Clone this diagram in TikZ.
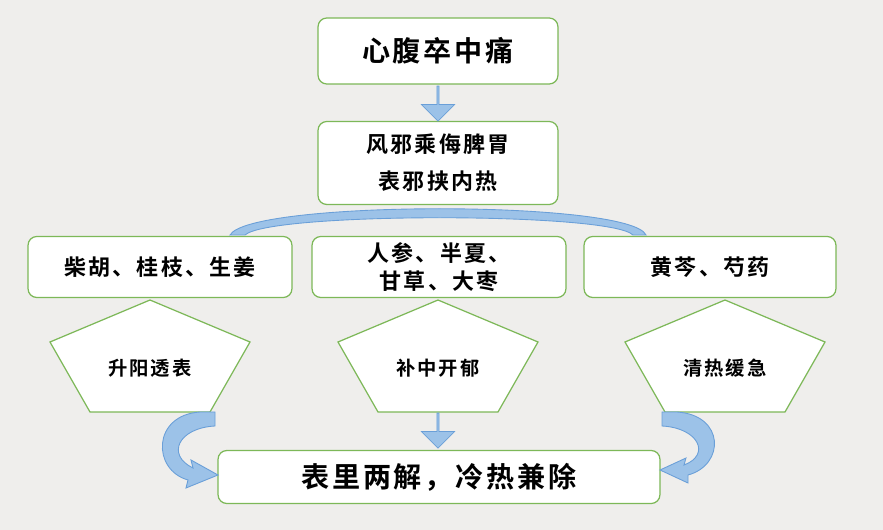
\documentclass[tikz,border=0pt]{standalone}
\usepackage{fontspec}
\setmainfont[LetterSpace=10]{Noto Sans CJK SC Bold}
\usetikzlibrary{shapes.arrows, positioning}
\definecolor{boxgreen}{HTML}{7DB858}
\definecolor{arrowfill}{HTML}{9CC2E8}
\definecolor{arrowline}{HTML}{6A9FD8}
\definecolor{paper}{HTML}{EFEEEC}
\begin{document}
\begin{tikzpicture}[
    x=0.02cm, y=-0.02cm,
    box/.style={rectangle, draw=boxgreen, fill=white, rounded corners=5pt, line width=0.7pt, align=center, inner sep=0pt},
    pent/.style={draw=boxgreen, fill=white, line width=0.7pt},
    fatarrow/.style={single arrow, draw=arrowline, fill=arrowfill, minimum height=0.7cm, minimum width=0.66cm, single arrow head extend=0.1cm, inner sep=0pt, shape border rotate=270},
    band/.style={draw=arrowline, fill=arrowfill, line width=0.5pt}
]
\fill[paper] (0,0) rectangle (883,530);

% Top blocks
\node[box, minimum width=4.8cm, minimum height=1.32cm, font=\fontsize{16}{18}\selectfont] (pain) at (438,51) {心腹卒中痛};
\node[box, minimum width=4.8cm, minimum height=1.66cm, font=\fontsize{12.5}{21}\selectfont] (cause) at (438,163) {风邪乘侮脾胃\\表邪挟内热};

% Herb blocks
\node[box, minimum width=5.28cm, minimum height=1.22cm, font=\fontsize{12.5}{16}\selectfont] (chaihu) at (160,267) {柴胡、桂枝、生姜};
\node[box, minimum width=5.08cm, minimum height=1.22cm, font=\fontsize{12.5}{16}\selectfont] (renshen) at (439,267) {人参、半夏、\\甘草、大枣};
\node[box, minimum width=5.04cm, minimum height=1.22cm, font=\fontsize{12.5}{16}\selectfont] (huangqin) at (710,267) {黄芩、芍药};

% Effect pentagons
\foreach \cx/\name/\txt in {150/sheng/升阳透表, 438/bu/补中开郁, 725/qing/清热缓急}{
  \draw[pent] (\cx,300) -- (\cx+100,342) -- (\cx+60,412) -- (\cx-60,412) -- (\cx-100,342) -- cycle;
  \node[font=\fontsize{11}{13}\selectfont] (\name) at (\cx,368) {\txt};
}

% Result block
\node[box, minimum width=8.84cm, minimum height=1.06cm, font=\fontsize{16}{18}\selectfont] (result) at (439,477) {表里两解，冷热兼除};

% Arrows
\node[fatarrow] (a1) at (438,103) {};
\node[fatarrow] (a2) at (438,430) {};
\path[band] (230,235) .. controls (250,200) and (630,200) .. (646,235)
  -- (633,235) .. controls (610,212) and (270,212) .. (245,235) -- cycle;
\path[band] (215,412) -- (215,426) .. controls (178,428) and (166,455) .. (193,468)
  -- (191,460) -- (218,475) -- (186,488) -- (188,480) .. controls (152,470) and (152,415) .. (200,412) -- cycle;
\path[band] (662,412) -- (662,426) .. controls (699,428) and (711,455) .. (684,465)
  -- (686,458) -- (660,470) -- (688,483) -- (688,475) .. controls (725,465) and (725,415) .. (677,412) -- cycle;
\end{tikzpicture}
\end{document}
